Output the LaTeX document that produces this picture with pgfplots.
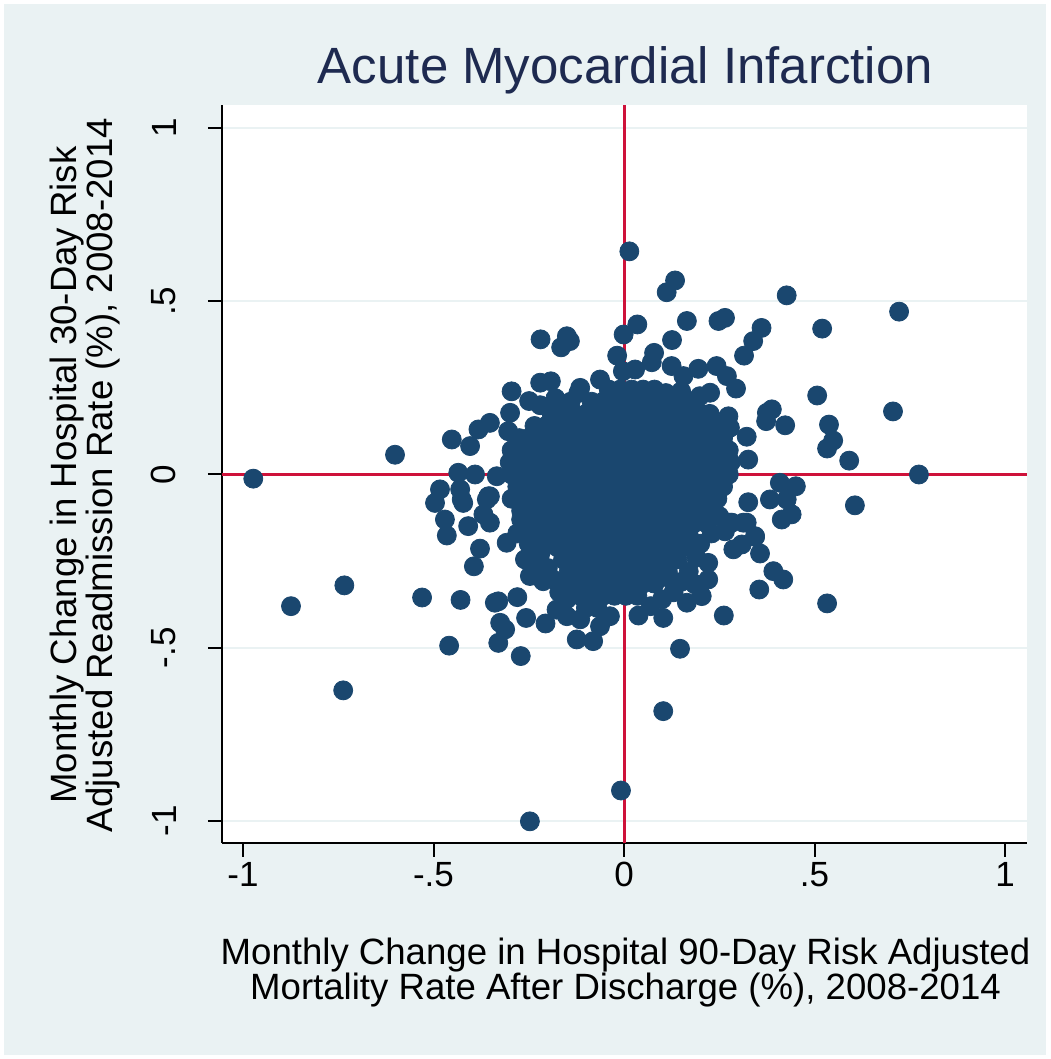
\documentclass[border=0pt]{standalone}
\usepackage{fontspec}
\setmainfont{Liberation Sans}
\usepackage{pgfplots}
\pgfplotsset{compat=1.18}
\definecolor{bgc}{RGB}{234,242,243}
\definecolor{gridc}{RGB}{234,242,243}
\definecolor{navyc}{RGB}{26,71,111}
\definecolor{redc}{RGB}{206,18,58}
\definecolor{titlec}{RGB}{30,42,80}
\begin{document}
\begin{tikzpicture}
\fill[white] (0,0) rectangle (525pt,529.5pt);
\fill[bgc] (2pt,2pt) rectangle (523pt,527.5pt);
\begin{axis}[at={(111pt,108pt)}, anchor=south west, scale only axis,
  width=402.5pt, height=369pt,
  xmin=-1.0551, xmax=1.0577, ymin=-1.0635, ymax=1.0664,
  axis background/.style={fill=white},
  axis x line*=bottom, axis y line*=left,
  axis line style={line width=1pt, black, -},
  xtick={-1,-0.5,0,0.5,1}, xticklabels={-1,-.5,0,.5,1},
  ytick={-1,-0.5,0,0.5,1}, yticklabels={-1,-.5,0,.5,1},
  tick align=outside, major tick length=7pt,
  tick style={line width=1pt, black},
  ymajorgrids, grid style={gridc, line width=1pt},
  ticklabel style={font=\fontsize{17.5}{20}\selectfont},
  xticklabel style={anchor=north, inner sep=0pt, yshift=-2.5pt},
  yticklabel style={rotate=90, anchor=south, inner sep=0pt, outer xsep=0pt, outer ysep=16pt},
]
\addplot[redc, line width=1.5pt, no marks] coordinates {(0,-1.0635) (0,1.0664)};
\addplot[redc, line width=1.5pt, no marks] coordinates {(-1.0551,0) (1.0577,0)};
% outlying points
\addplot[only marks, mark=*, mark size=4.75pt, mark options={draw=navyc, fill=navyc}] coordinates {
(0.014,0.644) (0.134,0.560) (0.112,0.526) (0.427,0.517) (-0.219,0.390) (-0.150,0.399)
(-0.142,0.385) (-0.165,0.367) (-0.001,0.404) (0.035,0.433) (0.165,0.443) (0.248,0.443)
(0.265,0.452) (0.361,0.423) (0.339,0.385) (0.315,0.343) (0.126,0.388) (-0.018,0.343)
(0.079,0.351) (0.073,0.324) (-0.003,0.298) (0.029,0.303) (0.125,0.313) (0.156,0.284)
(0.195,0.305) (0.243,0.313) (0.270,0.284) (0.294,0.248) (-0.295,0.240) (-0.220,0.265)
(-0.192,0.269) (-0.115,0.250) (-0.063,0.274) (-0.249,0.212) (-0.299,0.178) (0.226,0.236)
(0.199,0.226) (0.375,0.178) (0.388,0.188) (0.423,0.142) (0.373,0.154) (0.274,0.168)
(0.278,0.135) (0.322,0.109) (0.326,0.043) (-0.352,0.149) (-0.382,0.130) (-0.404,0.082)
(-0.452,0.101) (-0.304,0.125) (-0.435,0.005) (-0.391,0) (-0.334,-0.005) (-0.352,-0.063)
(-0.483,-0.043) (-0.496,-0.082) (-0.430,-0.043) (-0.422,-0.082) (-0.601,0.057) (0.409,-0.024)
(0.451,-0.034) (0.383,-0.072) (0.427,-0.072) (0.326,-0.080) (0.440,-0.115) (0.414,-0.130)
(0.322,-0.139) (0.344,-0.178) (0.287,-0.216) (0.357,-0.228) (0.309,-0.202) (0.265,-0.164)
(0.283,-0.139) (0.392,-0.279) (0.418,-0.303) (0.355,-0.332) (0.262,-0.407) (0.221,-0.255)
(0.221,-0.303) (0.204,-0.351) (0.186,-0.317) (0.165,-0.370) (0.103,-0.414) (0.038,-0.407)
(0.147,-0.503) (0.103,-0.683) (-0.530,-0.355) (-0.429,-0.362) (-0.459,-0.494) (-0.330,-0.366)
(-0.280,-0.354) (-0.325,-0.428) (-0.312,-0.447) (-0.330,-0.486) (-0.257,-0.414) (-0.271,-0.524)
(-0.206,-0.430) (-0.177,-0.390) (-0.150,-0.409) (-0.115,-0.418) (-0.124,-0.476) (-0.081,-0.481)
(-0.063,-0.438) (-0.037,-0.409) (-0.378,-0.214) (-0.394,-0.265) (-0.465,-0.176) (-0.470,-0.130)
(-0.409,-0.149) (-0.426,-0.072) (-0.356,-0.063) (-0.308,-0.197) (-0.260,-0.245) (-0.247,-0.293)
(-0.212,-0.308) (-0.973,-0.012) (-0.874,-0.380) (-0.734,-0.320) (-0.737,-0.623) (-0.247,-1.001)
(-0.008,-0.912) (0.722,0.470) (0.706,0.182) (0.774,0.0) (0.606,-0.089) (0.591,0.040)
(0.520,0.421) (0.507,0.228) (0.538,0.144) (0.549,0.098) (0.533,0.075) (0.533,-0.372)
(0.278,-0.139) (0.313,-0.139) (0.344,-0.180) (-0.339,-0.370) (-0.352,-0.139) (-0.369,-0.115)
(-0.360,-0.072)
(-0.28,-0.17) (-0.25,-0.20) (-0.22,-0.23) (-0.20,-0.27) (-0.19,-0.30) (-0.17,-0.34)
(-0.24,-0.16) (-0.21,-0.19) (-0.27,-0.13) (-0.23,-0.26) (-0.15,-0.36)
(0.17,-0.28) (0.15,-0.31) (0.13,-0.34) (0.10,-0.36) (0.07,-0.38) (0.12,-0.30) (0.19,-0.24)
(0.20,-0.20) (0.23,-0.17) (0.25,-0.12)
(-0.22,0.20) (-0.18,0.22) (-0.14,0.21) (-0.12,0.235) (0.11,0.235) (0.15,0.24)
};
% dense core
\addplot[only marks, mark=*, mark size=4.75pt, mark options={draw=navyc, fill=navyc}] coordinates {
(-0.04,0.245) (-0.01,0.245) (0.02,0.245) (0.05,0.245) (0.08,0.245)
(-0.085,0.21) (-0.055,0.21) (-0.025,0.21) (0.005,0.21) (0.035,0.21) (0.065,0.21) (0.095,0.21) (0.125,0.21) (0.155,0.21) (0.185,0.21)
(-0.19,0.175) (-0.16,0.175) (-0.13,0.175) (-0.10,0.175) (-0.07,0.175) (-0.04,0.175) (-0.01,0.175) (0.02,0.175) (0.05,0.175) (0.08,0.175) (0.11,0.175) (0.14,0.175) (0.17,0.175) (0.20,0.175) (0.225,0.175)
(-0.235,0.14) (-0.205,0.14) (-0.175,0.14) (-0.145,0.14) (-0.115,0.14) (-0.085,0.14) (-0.055,0.14) (-0.025,0.14) (0.005,0.14) (0.035,0.14) (0.065,0.14) (0.095,0.14) (0.125,0.14) (0.155,0.14) (0.185,0.14) (0.215,0.14) (0.24,0.14)
(-0.275,0.105) (-0.25,0.105) (-0.22,0.105) (-0.19,0.105) (-0.16,0.105) (-0.13,0.105) (-0.10,0.105) (-0.07,0.105) (-0.04,0.105) (-0.01,0.105) (0.02,0.105) (0.05,0.105) (0.08,0.105) (0.11,0.105) (0.14,0.105) (0.17,0.105) (0.20,0.105) (0.23,0.105) (0.26,0.105)
(-0.295,0.07) (-0.265,0.07) (-0.235,0.07) (-0.205,0.07) (-0.175,0.07) (-0.145,0.07) (-0.115,0.07) (-0.085,0.07) (-0.055,0.07) (-0.025,0.07) (0.005,0.07) (0.035,0.07) (0.065,0.07) (0.095,0.07) (0.125,0.07) (0.155,0.07) (0.185,0.07) (0.215,0.07) (0.245,0.07) (0.275,0.07)
(-0.30,0.035) (-0.28,0.035) (-0.25,0.035) (-0.22,0.035) (-0.19,0.035) (-0.16,0.035) (-0.13,0.035) (-0.10,0.035) (-0.07,0.035) (-0.04,0.035) (-0.01,0.035) (0.02,0.035) (0.05,0.035) (0.08,0.035) (0.11,0.035) (0.14,0.035) (0.17,0.035) (0.20,0.035) (0.23,0.035) (0.26,0.035) (0.28,0.035)
(-0.295,0) (-0.265,0) (-0.235,0) (-0.205,0) (-0.175,0) (-0.145,0) (-0.115,0) (-0.085,0) (-0.055,0) (-0.025,0) (0.005,0) (0.035,0) (0.065,0) (0.095,0) (0.125,0) (0.155,0) (0.185,0) (0.215,0) (0.245,0) (0.275,0)
(-0.28,-0.035) (-0.25,-0.035) (-0.22,-0.035) (-0.19,-0.035) (-0.16,-0.035) (-0.13,-0.035) (-0.10,-0.035) (-0.07,-0.035) (-0.04,-0.035) (-0.01,-0.035) (0.02,-0.035) (0.05,-0.035) (0.08,-0.035) (0.11,-0.035) (0.14,-0.035) (0.17,-0.035) (0.20,-0.035) (0.23,-0.035) (0.26,-0.035)
(-0.295,-0.07) (-0.265,-0.07) (-0.235,-0.07) (-0.205,-0.07) (-0.175,-0.07) (-0.145,-0.07) (-0.115,-0.07) (-0.085,-0.07) (-0.055,-0.07) (-0.025,-0.07) (0.005,-0.07) (0.035,-0.07) (0.065,-0.07) (0.095,-0.07) (0.125,-0.07) (0.155,-0.07) (0.185,-0.07) (0.215,-0.07) (0.245,-0.07)
(-0.27,-0.105) (-0.25,-0.105) (-0.22,-0.105) (-0.19,-0.105) (-0.16,-0.105) (-0.13,-0.105) (-0.10,-0.105) (-0.07,-0.105) (-0.04,-0.105) (-0.01,-0.105) (0.02,-0.105) (0.05,-0.105) (0.08,-0.105) (0.11,-0.105) (0.14,-0.105) (0.17,-0.105) (0.20,-0.105) (0.23,-0.105)
(-0.235,-0.14) (-0.205,-0.14) (-0.175,-0.14) (-0.145,-0.14) (-0.115,-0.14) (-0.085,-0.14) (-0.055,-0.14) (-0.025,-0.14) (0.005,-0.14) (0.035,-0.14) (0.065,-0.14) (0.095,-0.14) (0.125,-0.14) (0.155,-0.14) (0.185,-0.14) (0.215,-0.14)
(-0.19,-0.175) (-0.16,-0.175) (-0.13,-0.175) (-0.10,-0.175) (-0.07,-0.175) (-0.04,-0.175) (-0.01,-0.175) (0.02,-0.175) (0.05,-0.175) (0.08,-0.175) (0.11,-0.175) (0.14,-0.175) (0.17,-0.175)
(-0.175,-0.21) (-0.145,-0.21) (-0.115,-0.21) (-0.085,-0.21) (-0.055,-0.21) (-0.025,-0.21) (0.005,-0.21) (0.035,-0.21) (0.065,-0.21) (0.095,-0.21) (0.125,-0.21) (0.155,-0.21)
(-0.16,-0.245) (-0.13,-0.245) (-0.10,-0.245) (-0.07,-0.245) (-0.04,-0.245) (-0.01,-0.245) (0.02,-0.245) (0.05,-0.245) (0.08,-0.245) (0.11,-0.245) (0.14,-0.245)
(-0.145,-0.28) (-0.115,-0.28) (-0.085,-0.28) (-0.055,-0.28) (-0.025,-0.28) (0.005,-0.28) (0.035,-0.28) (0.065,-0.28) (0.095,-0.28) (0.115,-0.28)
(-0.16,-0.315) (-0.13,-0.315) (-0.10,-0.315) (-0.07,-0.315) (-0.04,-0.315) (-0.01,-0.315) (0.02,-0.315) (0.05,-0.315) (0.08,-0.315)
(-0.115,-0.35) (-0.085,-0.35) (-0.055,-0.35) (-0.025,-0.35) (0.005,-0.35) (0.035,-0.35)
(-0.10,-0.385) (-0.07,-0.385)
};
\end{axis}
\node[anchor=base, text=titlec, font=\fontsize{25.5}{28}\selectfont] at (312.75pt,487.5pt) {Acute Myocardial Infarction};
\node[anchor=base, font=\fontsize{18.3}{20}\selectfont] at (312.75pt,47pt) {Monthly Change in Hospital 90-Day Risk Adjusted};
\node[anchor=base, font=\fontsize{18.3}{20}\selectfont] at (312.75pt,29.5pt) {Mortality Rate After Discharge (\%), 2008-2014};
\node[anchor=base, rotate=90, font=\fontsize{18.3}{20}\selectfont] at (38pt,292pt) {Monthly Change in Hospital 30-Day Risk};
\node[anchor=base, rotate=90, font=\fontsize{18.3}{20}\selectfont] at (56.3pt,292pt) {Adjusted Readmission Rate (\%), 2008-2014};
\end{tikzpicture}
\end{document}
